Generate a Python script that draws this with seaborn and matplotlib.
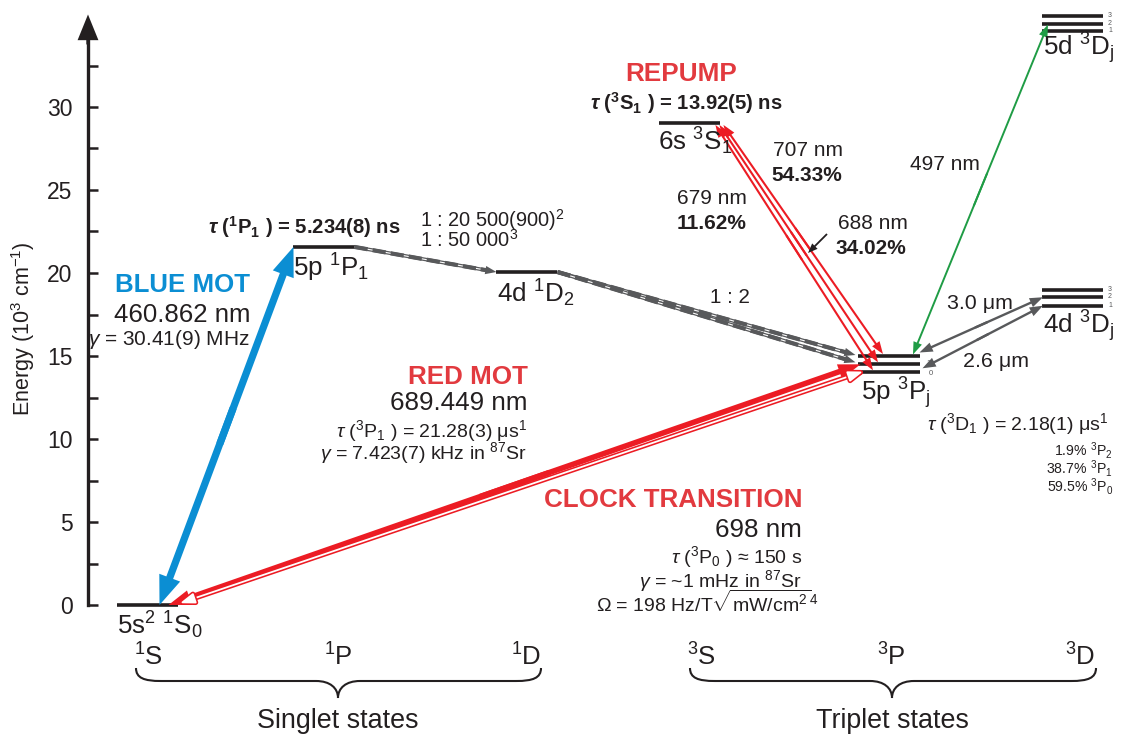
import matplotlib
matplotlib.use("Agg")
import matplotlib.pyplot as plt
import matplotlib.patheffects as pe
from matplotlib.patches import FancyArrowPatch, ArrowStyle, PathPatch
from matplotlib.path import Path
from matplotlib.transforms import Affine2D
import numpy as np
import pandas as pd
import seaborn as sns

# ------------------------------------------------------------------ data
# Strontium energy levels in 10^3 cm^-1 (fine-structure manifolds drawn expanded)
level_keys = ["1S0", "1P1", "1D2", "3S1",
              "3P0", "3P1", "3P2",
              "4d3D1", "4d3D2", "4d3D3",
              "5d3D1", "5d3D2", "5d3D3"]
level_terms = ["1S", "1P", "1D", "3S",
               "3P", "3P", "3P",
               "3D", "3D", "3D",
               "3D", "3D", "3D"]
level_energy = [0.0, 21.57, 20.06, 29.04,
                14.02, 14.50, 15.00,
                18.03, 18.54, 18.98,
                34.58, 35.03, 35.48]

term_order = ["1S", "1P", "1D", "3S", "3P", "3D"]
term_labels = [r"$^1$S", r"$^1$P", r"$^1$D", r"$^3$S", r"$^3$P", r"$^3$D"]

energy_major = [0, 5, 10, 15, 20, 25, 30]
energy_minor = [2.5, 7.5, 12.5, 17.5, 22.5, 27.5, 32.5]

# transitions between levels (lower, upper)
blue_mot = ("1S0", "1P1")
red_mot = ("1S0", "3P1")
clock_line = ("1S0", "3P0")
repump_lower = ["3P0", "3P1", "3P2"]
repump_upper = "3S1"
repump_nm = ["679 nm", "688 nm", "707 nm"]
repump_branch = ["11.62%", "34.02%", "54.33%"]
green_line = ("3P2", "5d3D2")
ir_lines = [("3P2", "4d3D2"), ("3P0", "4d3D1")]
ir_labels = ["3.0 μm", "2.6 μm"]
decay_paths = [("1P1", "1D2"), ("1D2", "3P2"), ("1D2", "3P1")]

# ------------------------------------------------------------------ style
W, H = 1121, 737
INK = "#231f20"
GRAY = "#58595b"
BLUE = "#0b8ed3"
RED = "#ec1c24"
RED_TXT = "#e23a3f"
GREEN = "#1f9c45"

sns.set_theme(style="white")
plt.rcParams["font.family"] = ["Liberation Sans", "DejaVu Sans"]
plt.rcParams.update({
    "mathtext.fontset": "custom",
    "mathtext.rm": "Liberation Sans",
    "mathtext.it": "Liberation Sans:italic",
    "mathtext.bf": "Liberation Sans:bold:italic",
    "mathtext.default": "regular",
})

fig = plt.figure(figsize=(W / 100, H / 100), dpi=100)
fig.patch.set_facecolor("white")
ax = fig.add_axes([88 / W, 0, 1 - 88 / W, 1])
ax.set_facecolor("none")

# column centres (column units) and half width of each level bar
TERM_X = dict(zip(term_order, [0.0, 0.954, 2.051, 2.932, 4.008, 5.0]))
HW = 0.165
COL_PX = 185.0   # pixels per column unit
E_PX = 16.6      # pixels per 10^3 cm^-1
Y0_PX = 605.0    # pixel row of zero energy
X0_PX = 147.5    # pixel column of the first term

energy = dict(zip(level_keys, level_energy))
term = dict(zip(level_keys, level_terms))


def at(key, side="C", dx_px=0.0, dy_px=0.0):
    """Point on a level bar, optionally nudged by a few pixels."""
    x = TERM_X[term[key]] + {"L": -HW, "C": 0.0, "R": HW}[side] + dx_px / COL_PX
    return (x, energy[key] + dy_px / E_PX)


# pixel frame for free annotations
PX = Affine2D().scale(1 / W, -1 / H).translate(0, 1) + fig.transFigure


def put(px, py, s, size, ha="left", va="baseline", color=INK, weight="normal", **kw):
    fig.text(px / W, 1 - py / H, s, fontsize=size, ha=ha, va=va,
             color=color, fontweight=weight, **kw)


# ------------------------------------------------------------------ levels
rows = []
for key, t, e in zip(level_keys, level_terms, level_energy):
    xc = TERM_X[t]
    rows.append(dict(level=key, x=xc - HW, energy=e))
    rows.append(dict(level=key, x=xc + HW, energy=e))
seg = pd.DataFrame(rows)
sns.lineplot(data=seg, x="x", y="energy", units="level", estimator=None,
             sort=False, color=INK, lw=2.6, solid_capstyle="butt",
             legend=False, ax=ax, zorder=2)

# ------------------------------------------------------------------ axes
ax.set_xlim((88 - X0_PX) / COL_PX, (W - X0_PX) / COL_PX)
ax.set_ylim(-(H - Y0_PX) / E_PX, Y0_PX / E_PX)
ax.set_xlabel("")
ax.set_ylabel("")
ax.set_xticks([])
ax.set_yticks(energy_major)
ax.set_yticks(energy_minor, minor=True)
ax.set_yticklabels([str(v) for v in energy_major])
ax.tick_params(axis="y", which="both", left=True, direction="in",
               length=7.2, width=1.8, color=INK, labelsize=16.5,
               labelcolor=INK, pad=11)
for s in ("top", "right", "bottom"):
    ax.spines[s].set_visible(False)
ax.spines["left"].set_color(INK)
ax.spines["left"].set_linewidth(2.4)
ax.spines["left"].set_bounds(0, 34.6)
ax.add_patch(FancyArrowPatch((0, 33.6), (0, (Y0_PX - 11.7) / E_PX),
                             transform=ax.get_yaxis_transform(),
                             arrowstyle=ArrowStyle.Simple(head_length=18.5, head_width=15, tail_width=2.4),
                             mutation_scale=1, color=INK, lw=0, clip_on=False, zorder=5))
fig.text(23 / W, 1 - 329 / H, r"Energy (10$^3$ cm$^{-1}$)", rotation=90,
         ha="center", va="center", fontsize=15.5, color=INK)


# ------------------------------------------------------------------ arrows
def solid_arrow(p0, p1, color, tail, head_w, head_l, both=True, z=4, transform=None):
    style = ArrowStyle.Simple(head_length=head_l, head_width=head_w, tail_width=tail)
    (x0, y0), (x1, y1) = p0, p1
    if both:
        a = (x0 + 0.45 * (x1 - x0), y0 + 0.45 * (y1 - y0))
        b = (x0 + 0.55 * (x1 - x0), y0 + 0.55 * (y1 - y0))
        pieces = [(a, p1), (b, p0)]
    else:
        pieces = [(p0, p1)]
    for s, e in pieces:
        kw = {} if transform is None else {"transform": transform}
        ax.add_patch(FancyArrowPatch(s, e, arrowstyle=style, mutation_scale=1,
                                     color=color, lw=0, shrinkA=0, shrinkB=0,
                                     zorder=z, clip_on=False, **kw))


def dashed_arrow(p0, p1):
    d = ax.transData.transform([p0, p1])
    L = np.hypot(*(d[1] - d[0]))
    f = 1 - 9.0 / L
    (x0, y0), (x1, y1) = p0, p1
    xm, ym = x0 + f * (x1 - x0), y0 + f * (y1 - y0)
    ax.plot([x0, xm], [y0, ym], color=GRAY, lw=2.6, solid_capstyle="butt", zorder=3)
    ax.plot([x0, xm], [y0, ym], color="white", lw=0.8, solid_capstyle="butt", zorder=3)
    ax.plot([x0, xm], [y0, ym], color=GRAY, lw=3.0, dashes=(3.2, 1.2),
            dash_capstyle="butt", zorder=3)
    g = 1 - 16.0 / L
    ax.add_patch(FancyArrowPatch((x0 + g * (x1 - x0), y0 + g * (y1 - y0)), p1,
                                 arrowstyle=ArrowStyle.Simple(head_length=8, head_width=6, tail_width=1.2),
                                 mutation_scale=1, color=GRAY, lw=0, shrinkA=0, shrinkB=0, zorder=3))


# blue MOT 1S0 <-> 1P1
solid_arrow(at(blue_mot[0], "C", 12), at(blue_mot[1], "L"), BLUE, 5.2, 16, 21)
# red MOT 1S0 <-> 3P1
solid_arrow(at(red_mot[0], "C", 21), at(red_mot[1], "L", 2), RED, 4.0, 11, 16)
# clock 1S0 <-> 3P0 (hollow arrow)
ax.add_patch(FancyArrowPatch(at(clock_line[0], "C", 33, 2), at(clock_line[1], "L", 4, 0.5),
                             arrowstyle="<|-|>,head_length=9,head_width=3.2",
                             mutation_scale=1, facecolor="white", edgecolor=RED, lw=1,
                             shrinkA=0, shrinkB=0, zorder=4,
                             path_effects=[pe.Stroke(linewidth=3.6, foreground=RED),
                                           pe.Stroke(linewidth=1.3, foreground="white")]))
# repump 3P_j <-> 3S1
top_dx = [-5, -1, 3]
bot_dx = [-16, -11, -6]
for j, lo in enumerate(repump_lower):
    solid_arrow(at(repump_upper, "R", top_dx[j], -2), at(lo, "C", bot_dx[j], 2),
                RED, 1.5, 6.5, 9)
# 497 nm 3P2 <-> 5d 3D2
solid_arrow(at(green_line[0], "C", 24, 1.5), at(green_line[1], "L", 6, -1), GREEN, 1.4, 6.5, 9)
# infrared lines to 4d 3D
solid_arrow(at(ir_lines[0][0], "R", 0, 3.5), at(ir_lines[0][1], "L", 1), GRAY, 1.7, 7, 9.5)
solid_arrow(at(ir_lines[1][0], "R", 3, 4), at(ir_lines[1][1], "L", 1), GRAY, 1.7, 7, 9.5)
# decay channels (dashed)
dashed_arrow(at("1P1", "R"), at("1D2", "L"))
dashed_arrow(at("1D2", "R"), at("3P2", "L", -3, 1))
dashed_arrow(at("1D2", "R"), at("3P1", "L", -3, 2))
# pointer for the 688 nm line
solid_arrow((827, 234), (808, 253), INK, 1.3, 5.5, 7, both=False, transform=PX)


# ------------------------------------------------------------------ braces
def brace(x0, x1, xm):
    y_top, y_flat, y_tip = 668, 681, 698
    verts = [(x0, y_top),
             (x0, y_top + 10), (x0 + 8, y_flat), (x0 + 25, y_flat),
             (xm - 22, y_flat),
             (xm - 8, y_flat), (xm, y_flat + 7), (xm, y_tip),
             (xm, y_flat + 7), (xm + 8, y_flat), (xm + 22, y_flat),
             (x1 - 25, y_flat),
             (x1 - 8, y_flat), (x1, y_top + 10), (x1, y_top)]
    codes = [Path.MOVETO, Path.CURVE4, Path.CURVE4, Path.CURVE4, Path.LINETO,
             Path.CURVE4, Path.CURVE4, Path.CURVE4, Path.CURVE4, Path.CURVE4,
             Path.CURVE4, Path.LINETO, Path.CURVE4, Path.CURVE4, Path.CURVE4]
    fig.add_artist(PathPatch(Path(verts, codes), transform=PX, fill=False,
                             edgecolor=INK, lw=1.5))


brace(136, 541, 338)
brace(690, 1096, 892)
put(338, 728, "Singlet states", 19.4, ha="center")
put(892, 728, "Triplet states", 19.4, ha="center")
for lab, xpx in zip(term_labels, [148, 338, 526, 701, 891, 1080]):
    put(xpx, 666, lab, 18.5, ha="center")

# ------------------------------------------------------------------ level labels
put(117, 634, r"5s$^2$ $^1$S$_0$", 18.7)
put(293, 277, r"5p $^1$P$_1$", 18.7)
put(497, 302, r"4d $^1$D$_2$", 18.7)
put(658, 150, r"6s $^3$S$_1$", 18.7)
put(861, 400, r"5p $^3$P$_j$", 18.7)
put(1043, 333, r"4d $^3$D$_j$", 18.7)
put(1043, 55, r"5d $^3$D$_j$", 18.7)

# sublevel indices
put(926, Y0_PX - energy["3P1"] * E_PX - 1, "1", 5.5, va="center", color=GRAY, zorder=6)
put(929, Y0_PX - energy["3P0"] * E_PX + 1, "0", 5.5, va="center", color=GRAY, zorder=6)
for j, key in enumerate(["4d3D1", "4d3D2", "4d3D3"]):
    y = Y0_PX - energy[key] * E_PX - 0.5
    put(1108, y, str(j + 1), 5.0, va="center", color=GRAY)
for j, key in enumerate(["5d3D1", "5d3D2", "5d3D3"]):
    y = Y0_PX - energy[key] * E_PX - 0.5
    put(1108, y, str(j + 1), 5.0, va="center", color=GRAY)

# ------------------------------------------------------------------ annotations
put(250, 292, "BLUE MOT", 18.6, ha="right", color=BLUE, weight="bold")
put(250, 322, "460.862 nm", 18.6, ha="right")
put(250, 345, r"$\mathit{\gamma}$ = 30.41(9) MHz", 15, ha="right")

put(208, 234, r"$\mathbf{\tau}$ ($^1$P$_1$ ) = 5.234(8) ns", 14.6, weight="bold")
put(420, 227, r"1 : 20 500(900)$^2$", 14.4)
put(420, 247, r"1 : 50 000$^3$", 14.4)
put(710, 303, "1 : 2", 14.8)

put(681, 81, "REPUMP", 18.8, ha="center", color=RED_TXT, weight="bold")
put(590, 110, r"$\mathbf{\tau}$ ($^3$S$_1$ ) = 13.92(5) ns", 14.6, weight="bold")
put(773, 156, repump_nm[2], 15)
put(771, 181, repump_branch[2], 15, weight="bold")
put(677, 204, repump_nm[0], 15)
put(677, 229, repump_branch[0], 15, weight="bold")
put(838, 229, repump_nm[1], 15)
put(836, 254, repump_branch[1], 15, weight="bold")
put(910, 170, "497 nm", 15)

put(947, 309, ir_labels[0], 15.4)
put(963, 367, ir_labels[1], 15.4)
put(1108, 430, r"$\mathit{\tau}$ ($^3$D$_1$ ) = 2.18(1) μs$^1$", 14, ha="right")
put(1113, 456, r"1.9% $^3$P$_2$", 10.2, ha="right")
put(1113, 474, r"38.7% $^3$P$_1$", 10.2, ha="right")
put(1113, 492, r"59.5% $^3$P$_0$", 10.2, ha="right")

put(528, 384, "RED MOT", 18.7, ha="right", color=RED_TXT, weight="bold")
put(528, 410, "689.449 nm", 18.7, ha="right")
put(527, 437, r"$\mathit{\tau}$ ($^3$P$_1$ ) = 21.28(3) μs$^1$", 14, ha="right")
put(527, 459, r"$\mathit{\gamma}$ = 7.423(7) kHz in $^{87}$Sr", 14, ha="right")

put(802, 507, "CLOCK TRANSITION", 18.7, ha="right", color=RED_TXT, weight="bold")
put(802, 537, "698 nm", 18.7, ha="right")
put(802, 563, r"$\mathit{\tau}$ ($^3$P$_0$ ) ≈ 150 s", 14, ha="right")
put(802, 587, r"$\mathit{\gamma}$ = ~1 mHz in $^{87}$Sr", 14, ha="right")
put(818, 612, r"Ω = 198 Hz/T$\sqrt{mW/cm^2}^{4}$", 14, ha="right")

fig.savefig("out.png", dpi=100, facecolor="white")
